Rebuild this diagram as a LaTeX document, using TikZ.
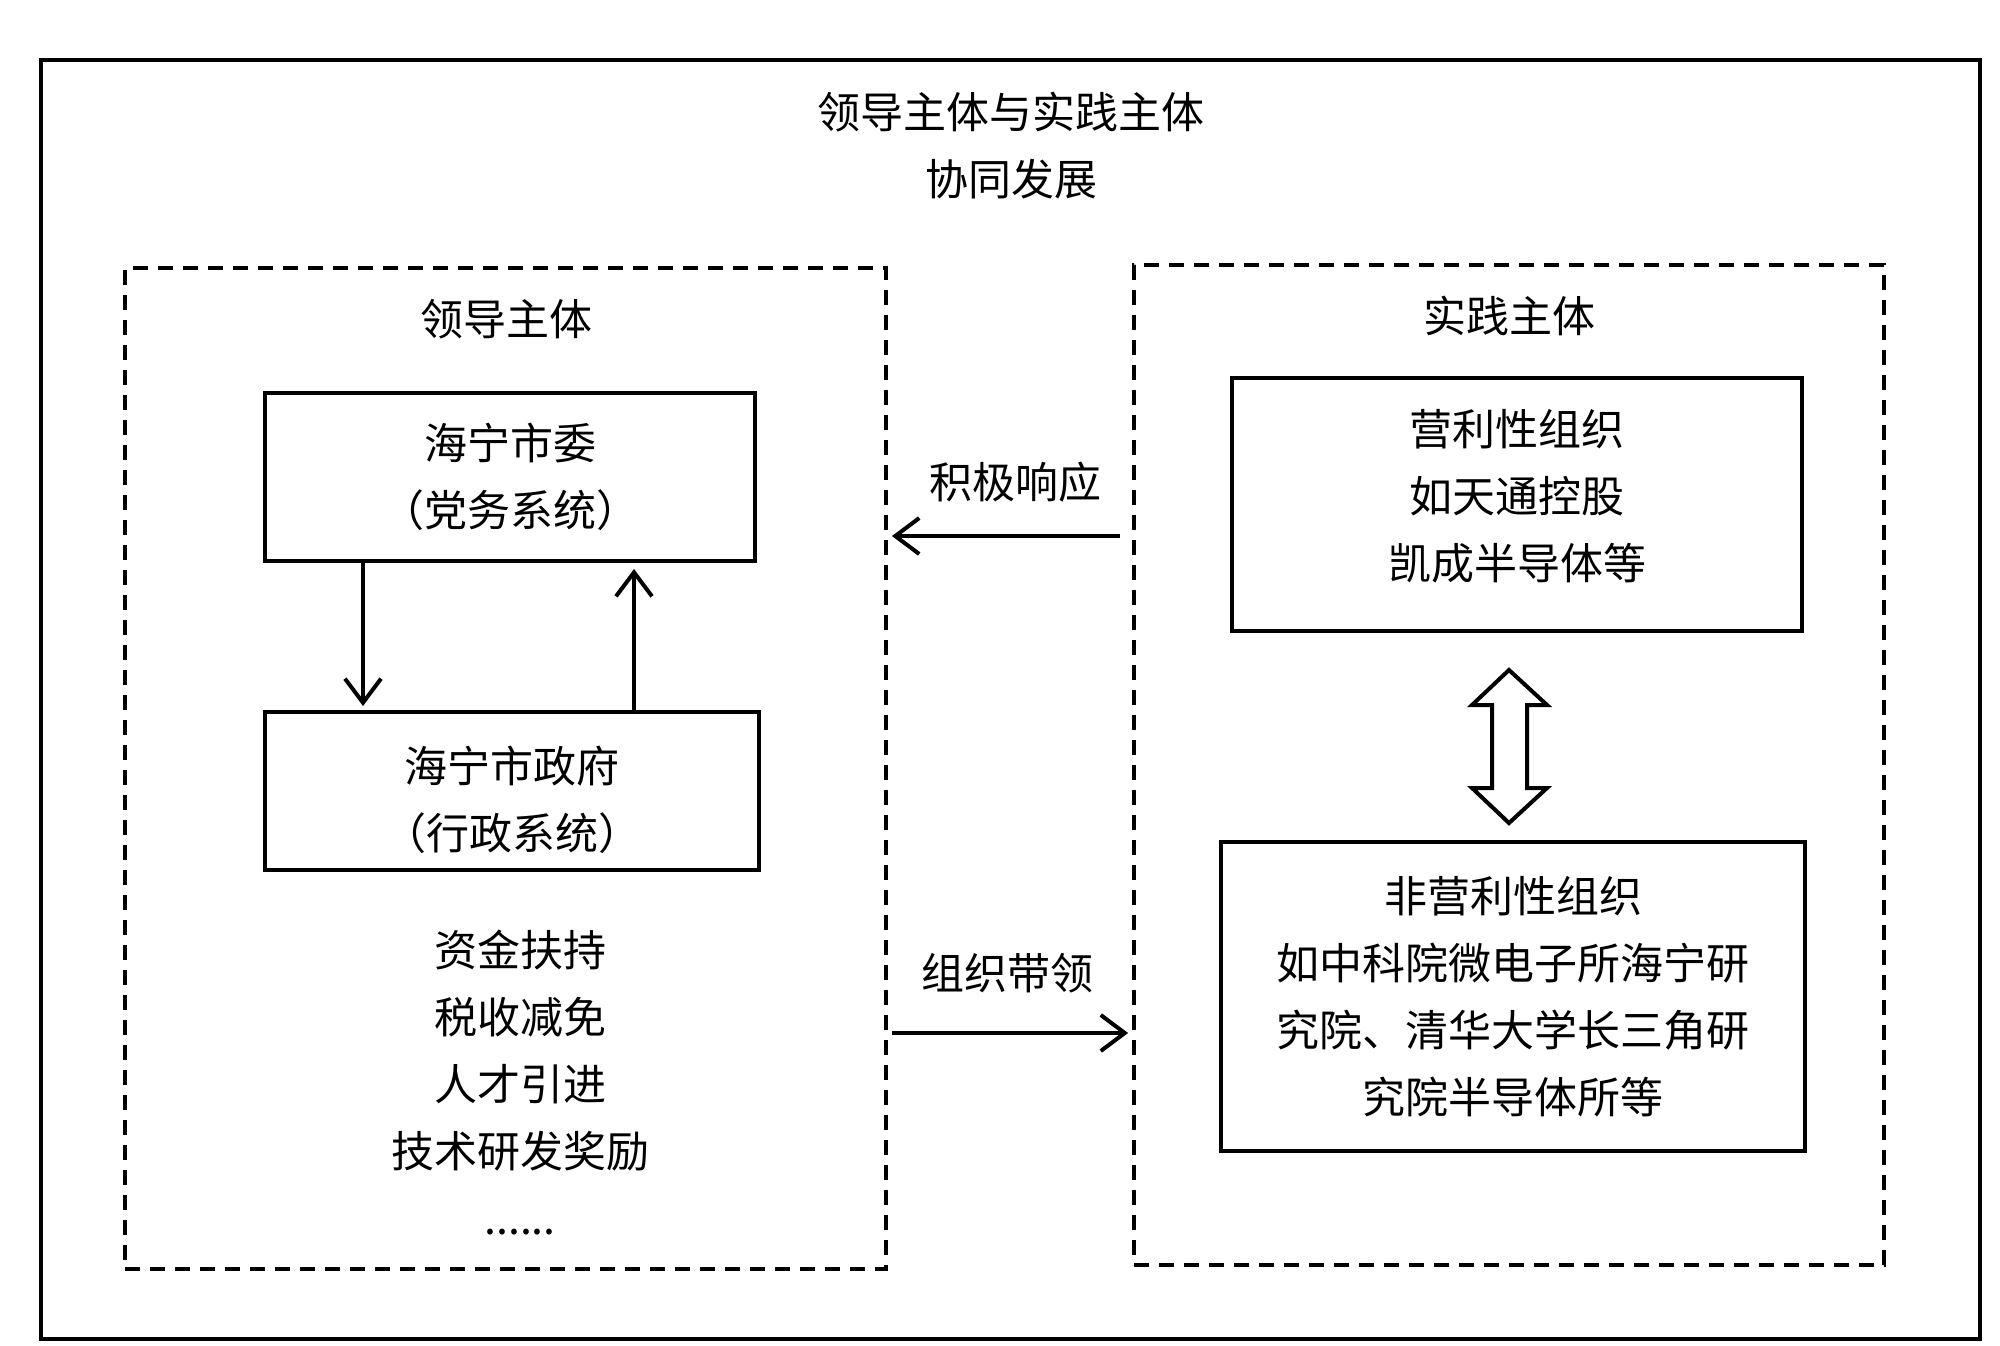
\documentclass[tikz,border=0pt]{standalone}
\usepackage{fontspec}
\newfontfamily\cjk{Noto Sans CJK SC}
\usetikzlibrary{arrows.meta}
\begin{document}
\begin{tikzpicture}[x=1pt,y=-1pt,
  txt/.style={font=\cjk\fontsize{43}{67}\selectfont, align=center, inner sep=0pt},
  solidbox/.style={draw, line width=4pt, inner sep=0pt},
  dashbox/.style={draw, line width=3.8pt, dash pattern=on 15pt off 10pt, inner sep=0pt},
  arr/.style={line width=4pt, -{Straight Barb[length=24pt,width=36pt,line width=4pt]}}
]
\useasboundingbox (0,0) rectangle (2000,1346);
\fill[white] (0,0) rectangle (2000,1346);
% outer frame
\node[draw, line width=3.2pt, minimum width=1939pt, minimum height=1279pt, inner sep=0pt] (outer) at (1010.5,699.5) {};
\node[txt] (title) at (1011,145.5) {领导主体与实践主体\\协同发展};
% dashed boxes
\node[dashbox, minimum width=761pt, minimum height=1001pt] (L) at (505.5,768.5) {};
\node[dashbox, minimum width=750pt, minimum height=1000pt] (R) at (1509,765) {};
\node[txt] (Lhead) at (506,319) {领导主体};
\node[txt] (Rhead) at (1509,316) {实践主体};
% left boxes
\node[solidbox, minimum width=490pt, minimum height=168pt] (party) at (510,477) {};
\node[txt] (partytxt) at (510,477) {海宁市委\\（党务系统）};
\node[solidbox, minimum width=494pt, minimum height=158pt] (gov) at (512,791) {};
\node[txt] (govtxt) at (512,800) {海宁市政府\\（行政系统）};
\node[txt] (list) at (520,1083) {资金扶持\\税收减免\\人才引进\\技术研发奖励\\......};
% right boxes
\node[solidbox, minimum width=570pt, minimum height=253pt] (profit) at (1517,504.5) {};
\node[txt] (profittxt) at (1517,496.5) {营利性组织\\如天通控股\\凯成半导体等};
\node[solidbox, minimum width=584pt, minimum height=309pt] (nonprofit) at (1513,996.5) {};
\node[txt] (nonprofittxt) at (1513,996.5) {非营利性组织\\如中科院微电子所海宁研\\究院、清华大学长三角研\\究院半导体所等};
% vertical arrows between left boxes
\draw[arr] (party.south -| 363,0) -- ([yshift=4pt]gov.north -| 363,0);
\draw[arr] (gov.north -| 634,0) -- ([yshift=-6pt]party.south -| 634,0);
% horizontal arrows
\draw[arr] ([xshift=-12pt]R.west |- 0,536) -- ([xshift=4pt]L.east |- 0,536)
  node[txt, pos=0.5, above=32pt, xshift=9pt] (respond) {积极响应};
\draw[arr] ([xshift=4pt]L.east |- 0,1033) -- ([xshift=-4pt]R.west |- 0,1033)
  node[txt, pos=0.5, above=38pt, xshift=-3pt] (lead) {组织带领};
% hollow double arrow
\coordinate (dtop) at (1509,670);
\coordinate (dbot) at (1509,823);
\draw[line width=4pt, miter limit=10] (dtop)
  -- (1472,705) -- (1492,705) -- (1492,788) -- (1472,788) -- (dbot)
  -- (1547,788) -- (1527,788) -- (1527,705) -- (1547,705) -- cycle;
\end{tikzpicture}
\end{document}
